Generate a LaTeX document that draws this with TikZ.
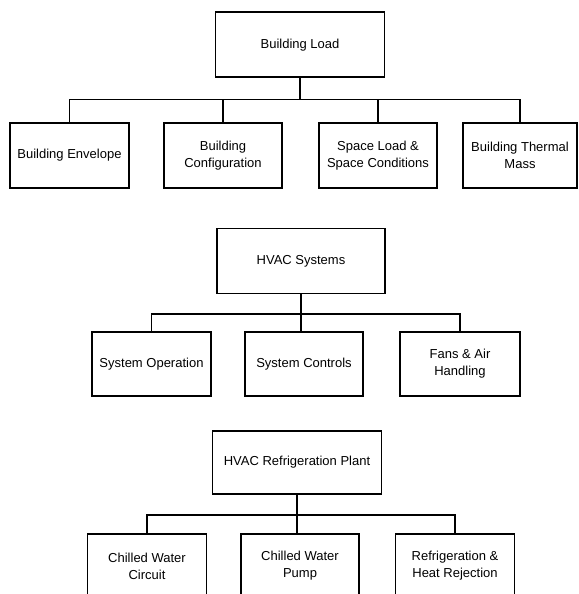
\documentclass[tikz,border=0pt]{standalone}
\usepackage{fontspec}
\setmainfont{Liberation Sans}
\begin{document}
\begin{tikzpicture}[x=1pt,y=-1pt,
  txt/.style={font=\fontsize{13}{17}\selectfont, align=center, inner sep=0pt},
  parentbox/.style={txt, draw, line width=1.7pt, minimum width=168pt, minimum height=65pt},
  childbox/.style={txt, draw, line width=1.2pt, minimum height=65pt},
  conn/.style={line width=1.1pt}]
\useasboundingbox (0,0) rectangle (578,594);
\clip (0,0) rectangle (578,594);
% --- Building Load ---
\node[parentbox, minimum width=169pt] (bl) at (300,44.8) {Building Load};
\node[childbox, minimum width=119pt] (bl1) at (69.5,155.5) {Building Envelope};
\node[childbox, minimum width=118pt] (bl2) at (223,155.5) {Building\\Configuration};
\node[childbox, minimum width=118pt] (bl3) at (378,155.5) {Space Load \&\\Space Conditions};
\node[childbox, minimum width=114pt] (bl4) at (520,155.5) {Building Thermal\\Mass};
\coordinate (b1) at (300,99.3);
\draw[conn] (bl.south) -- (b1);
\draw[conn] (bl1.north) |- (b1) -| (bl4.north);
\draw[conn] (bl2.north) -- (bl2.north |- b1);
\draw[conn] (bl3.north) -- (bl3.north |- b1);
% --- HVAC Systems ---
\node[parentbox] (hs) at (301,261) {HVAC Systems};
\node[childbox, minimum width=119pt, minimum height=64pt] (hs1) at (151.5,364) {System Operation};
\node[childbox, minimum width=118pt, minimum height=64pt] (hs2) at (304,364) {System Controls};
\node[childbox, minimum width=120pt, minimum height=64pt] (hs3) at (460,364) {Fans \& Air\\Handling};
\coordinate (b2) at (301,314);
\draw[conn] (hs.south) -- (hs.south |- hs2.north);
\draw[conn] (hs1.north) |- (b2) -| (hs3.north);
% --- HVAC Refrigeration Plant ---
\node[parentbox, minimum width=169pt, minimum height=63pt] (rp) at (297,462.5) {HVAC Refrigeration Plant};
\node[childbox, minimum width=119pt, minimum height=64pt] (rp1) at (147,566) {Chilled Water\\Circuit};
\node[childbox, minimum width=118pt, minimum height=64pt] (rp2) at (300,566) {Chilled Water\\Pump};
\node[childbox, minimum width=118.5pt, minimum height=64pt] (rp3) at (455,566) {Refrigeration \&\\Heat Rejection};
\coordinate (b3) at (297,515);
\draw[conn] (rp.south) -- (rp.south |- rp2.north);
\draw[conn] (rp1.north) |- (b3) -| (rp3.north);
\end{tikzpicture}
\end{document}
